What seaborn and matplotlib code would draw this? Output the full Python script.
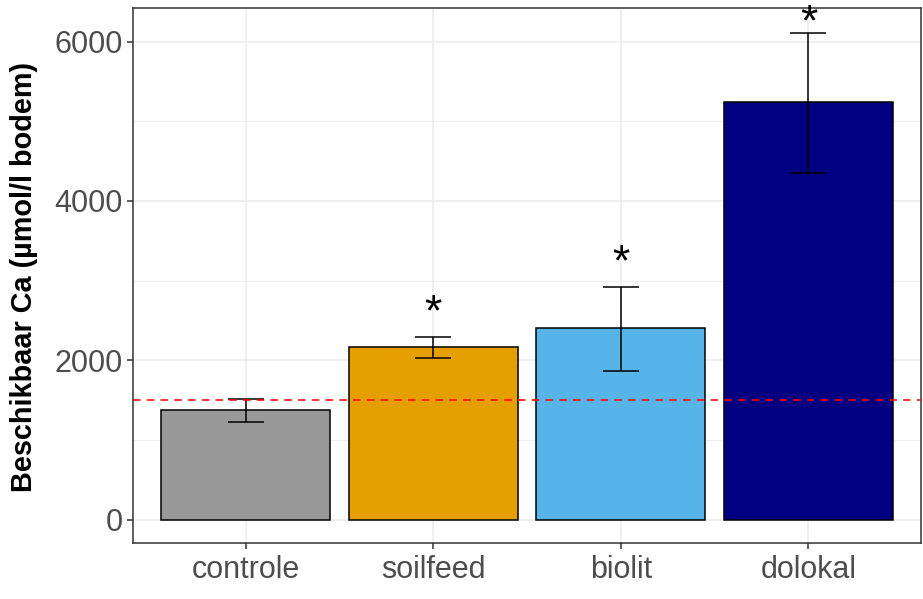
import matplotlib
matplotlib.use("Agg")
import matplotlib.pyplot as plt
import seaborn as sns
import pandas as pd
import numpy as np
from matplotlib.ticker import MultipleLocator

categories = ["controle", "soilfeed", "biolit", "dolokal"]
means = [1380, 2170, 2405, 5240]
err_low = [1230, 2030, 1870, 4350]
err_high = [1520, 2295, 2925, 6110]
colors = ["#999999", "#E69F00", "#56B4E9", "#000080"]
star_labels = ["", "*", "*", "*"]
star_y = [0, 2580, 3215, 6225]
ref_line = 1500
yticks = [0, 2000, 4000, 6000]
ylabel = "Beschikbaar Ca (µmol/l bodem)"

sns.set_theme(style="white")
plt.rcParams['font.family'] = ['Liberation Sans', 'DejaVu Sans']

df = pd.DataFrame({"cat": categories, "val": means})

fig = plt.figure(figsize=(9.23, 5.99), dpi=100)
ax = fig.add_axes([0.1441, 0.0935, 0.8537, 0.8931])

sns.barplot(data=df, x="cat", y="val", hue="cat", palette=colors, order=categories,
            hue_order=categories, width=0.9, edgecolor="black", linewidth=1.1,
            saturation=1, legend=False, ax=ax, errorbar=None, zorder=3)

x = np.arange(len(categories))
m = np.array(means)
lo = m - np.array(err_low)
hi = np.array(err_high) - m
ax.errorbar(x, m, yerr=[lo, hi], fmt="none", ecolor="black", elinewidth=1.1,
            capsize=13, capthick=1.1, zorder=4)

ax.axhline(ref_line, color="red", linestyle=(0, (5, 4)), linewidth=1.1, zorder=5)

for xi, s, yy in zip(x, star_labels, star_y):
    if s:
        ax.text(xi, yy, s, ha="center", va="center", fontsize=32, color="black",
                zorder=6, clip_on=False)

ax.set_xlim(-0.6, 3.6)
ax.set_ylim(-290, 6420)
ax.set_yticks(yticks)
ax.yaxis.set_minor_locator(MultipleLocator(1000))
ax.grid(True, which="major", color="#EBEBEB", linewidth=1.1, zorder=0)
ax.grid(True, which="minor", axis="y", color="#EBEBEB", linewidth=0.6, zorder=0)
ax.set_axisbelow(True)

for sp in ax.spines.values():
    sp.set_color("#333333")
    sp.set_linewidth(1.1)

ax.tick_params(axis="both", which="major", length=4, width=1.1, color="#333333",
               labelsize=22, labelcolor="#4D4D4D", bottom=True, left=True)
ax.tick_params(axis="y", which="minor", length=0)
ax.tick_params(axis="x", pad=5)
ax.set_xlabel("")
ax.set_ylabel(ylabel, fontsize=20.8, fontweight="bold", color="black")
ax.yaxis.set_label_coords(-0.12, 0.498)

fig.savefig("out.png", dpi=100)
